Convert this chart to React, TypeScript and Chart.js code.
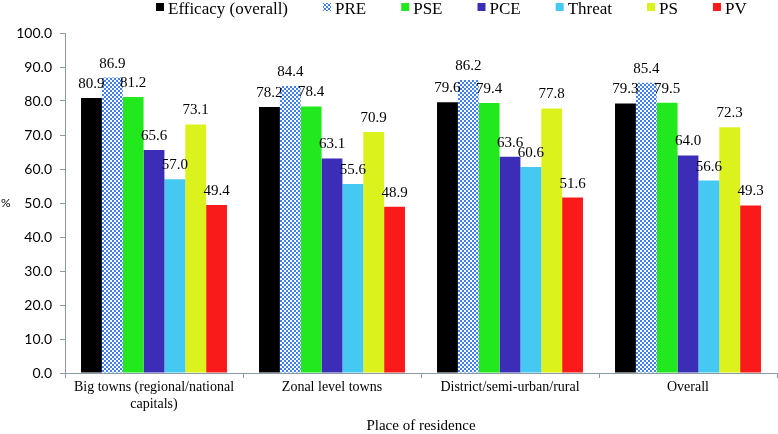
import React, { useEffect, useRef } from "react";
import { Chart, registerables } from "chart.js";

Chart.register(...registerables);

const categories: (string | string[])[] = [
  ["Big towns (regional/national", "capitals)"],
  "Zonal level towns",
  "District/semi-urban/rural",
  "Overall",
];
const seriesNames = ["Efficacy (overall)", "PRE", "PSE", "PCE", "Threat", "PS", "PV"];
const efficacy = [80.9, 78.2, 79.6, 79.3];
const pre = [86.9, 84.4, 86.2, 85.4];
const pse = [81.2, 78.4, 79.4, 79.5];
const pce = [65.6, 63.1, 63.6, 64.0];
const threat = [57.0, 55.6, 60.6, 56.6];
const ps = [73.1, 70.9, 77.8, 72.3];
const pv = [49.4, 48.9, 51.6, 49.3];
const yTicks = [0, 10, 20, 30, 40, 50, 60, 70, 80, 90, 100];

const SERIF = '"Liberation Serif", "Times New Roman", serif';
const SANS = 'Lato, "Open Sans", sans-serif';

function makePattern(): CanvasPattern | string {
  const c = document.createElement("canvas");
  c.width = 4;
  c.height = 4;
  const g = c.getContext("2d");
  if (!g) return "#4a86f0";
  g.fillStyle = "#ffffff";
  g.fillRect(0, 0, 4, 4);
  g.fillStyle = "#3f7ff0";
  g.fillRect(0, 0, 2, 2);
  g.fillRect(2, 2, 2, 2);
  const p = g.createPattern(c, "repeat");
  return p || "#4a86f0";
}

export default function App() {
  const ref = useRef<HTMLCanvasElement | null>(null);
  useEffect(() => {
    if (!ref.current) return;
    const pattern = makePattern();
    const colors: any[] = ["#000000", pattern, "#22e81e", "#3b2db8", "#45c8f2", "#dcf21c", "#fb1a1a"];
    const values = [efficacy, pre, pse, pce, threat, ps, pv];

    const overlay = {
      id: "overlay",
      afterDatasetsDraw(chart: any) {
        const ctx = chart.ctx;
        ctx.save();
        // data labels
        ctx.font = `15px ${SERIF}`;
        ctx.fillStyle = "#000";
        ctx.textAlign = "center";
        ctx.textBaseline = "alphabetic";
        chart.data.datasets.forEach((ds: any, i: number) => {
          const meta = chart.getDatasetMeta(i);
          meta.data.forEach((bar: any, j: number) => {
            ctx.fillText(Number(ds.data[j]).toFixed(1), bar.x, bar.y - 10);
          });
        });
        // y-axis title
        ctx.font = `12px ${SANS}`;
        ctx.textAlign = "left";
        ctx.textBaseline = "middle";
        ctx.fillText("%", 1, (chart.chartArea.top + chart.chartArea.bottom) / 2);
        // legend
        ctx.font = `17px ${SERIF}`;
        ctx.textBaseline = "alphabetic";
        let x = 156;
        seriesNames.forEach((name, i) => {
          ctx.fillStyle = colors[i];
          ctx.fillRect(x, 3, 8, 8);
          ctx.fillStyle = "#000";
          ctx.fillText(name, x + 12, 13.5);
          x += 12 + ctx.measureText(name).width + 35;
        });
        ctx.restore();
      },
    };

    const chart = new Chart(ref.current, {
      type: "bar",
      data: {
        labels: categories as any,
        datasets: seriesNames.map((name, i) => ({
          label: name,
          data: values[i],
          backgroundColor: colors[i],
          borderWidth: 0,
          categoryPercentage: 0.82,
          barPercentage: 1.0,
        })),
      },
      options: {
        animation: false,
        responsive: false,
        maintainAspectRatio: false,
        layout: { padding: { top: 33, left: 0, right: 1, bottom: 0 } },
        plugins: { legend: { display: false }, tooltip: { enabled: false } },
        scales: {
          x: {
            grid: {
              display: true,
              drawOnChartArea: false,
              drawTicks: true,
              tickLength: 5,
              color: "#8a9aa5",
              offset: true,
            },
            border: { color: "#8a9aa5", width: 1 },
            ticks: {
              font: { family: SERIF, size: 14, lineHeight: 1.2 },
              color: "#000",
              padding: 1,
              maxRotation: 0,
              autoSkip: false,
            },
            title: {
              display: true,
              text: "Place of residence",
              font: { family: SERIF, size: 15, lineHeight: 1.0 },
              color: "#000",
              padding: 0,
            },
            afterFit(s: any) {
              s.height = 61;
            },
          },
          y: {
            min: 0,
            max: 100,
            afterBuildTicks(s: any) {
              s.ticks = yTicks.map((v) => ({ value: v }));
            },
            grid: {
              display: true,
              drawOnChartArea: false,
              drawTicks: true,
              tickLength: 5,
              color: "#8a9aa5",
            },
            border: { color: "#8a9aa5", width: 1 },
            ticks: {
              font: { family: SANS, size: 14 },
              color: "#000",
              padding: 8,
              callback: (v: any) => Number(v).toFixed(1),
            },
            afterFit(s: any) {
              s.width = 65;
            },
          },
        },
      },
      plugins: [overlay],
    });
    return () => chart.destroy();
  }, []);

  return (
    <div style={{ position: "fixed", left: 0, top: 0, width: 778, height: 434, background: "#fff" }}>
      <canvas ref={ref} width={778} height={434} style={{ width: 778, height: 434 }} />
    </div>
  );
}
